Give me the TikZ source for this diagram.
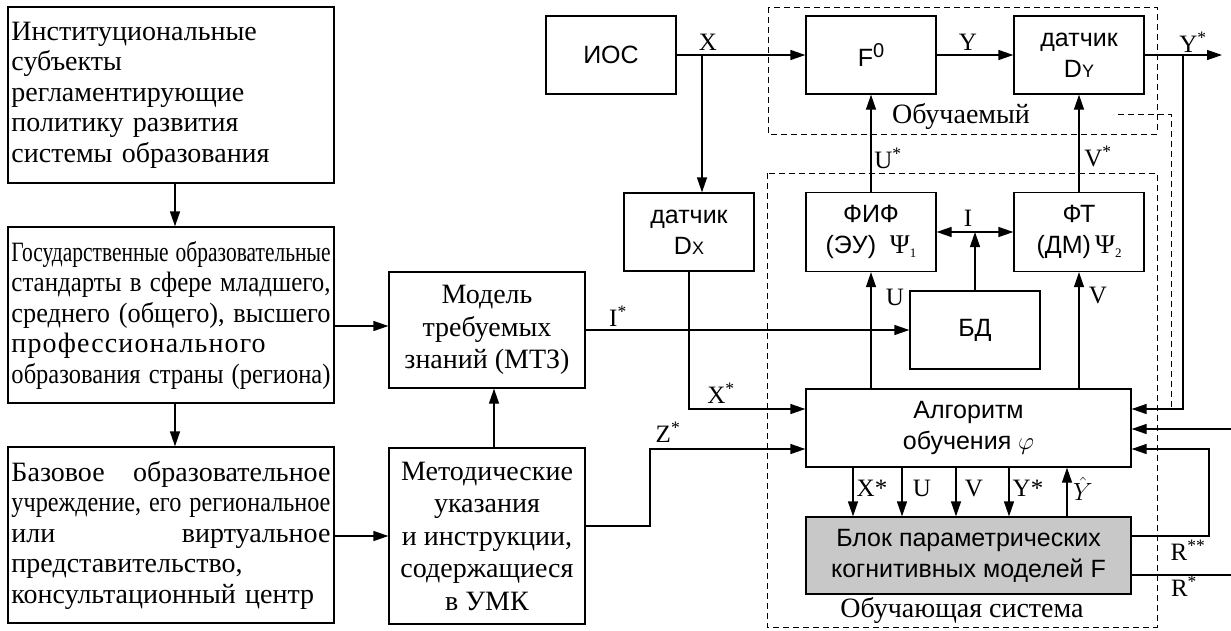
\documentclass[tikz,border=0pt]{standalone}
\usepackage{fontspec}
\usepackage{graphicx}
\setmainfont{Liberation Serif}
\setsansfont{Liberation Sans}
\usetikzlibrary{arrows.meta,calc}
\def\LW{319pt}
\newsavebox\lbx
\newcommand\fitline[1]{\sbox\lbx{#1}\ifdim\wd\lbx>\LW\relax\resizebox{\LW}{\height}{#1}\else\makebox[\LW][s]{#1}\fi}
\newcommand\jline[2]{\makebox[\LW]{#1\hfill #2}}
\tikzset{
 box/.style={draw, line width=1.3pt, inner sep=0pt, align=center},
 sbox/.style={box, font=\sffamily\fontsize{25}{31}\selectfont},
 tbox/.style={box, font=\fontsize{28}{32.5}\selectfont},
 lbox/.style={draw, line width=1.3pt, minimum width=326pt, minimum height=176pt, text width=319pt, align=left, inner sep=0pt, font=\fontsize{28}{30.5}\selectfont},
 conn/.style={line width=1.3pt},
 arr/.style={conn, -{Triangle[length=15pt,width=10pt]}},
 darr/.style={conn, {Triangle[length=15pt,width=10pt]}-{Triangle[length=15pt,width=10pt]}},
 lab/.style={font=\fontsize{25}{25}\selectfont, inner sep=0pt},
 dbox/.style={draw, line width=1pt, dash pattern=on 6pt off 4pt},
}
\begin{document}
\begin{tikzpicture}[x=1pt,y=-1pt]
\useasboundingbox (0,0) rectangle (1231,630);
% left column
\node[lbox] (A) at (171,95) {Институциональные\\ субъекты\\ регламентирующие\\ политику развития\\ системы образования};
\node[lbox] (B) at (171,315) {\fitline{Государственные образовательные}\\ \fitline{стандарты в сфере младшего,}\\ \fitline{среднего (общего), высшего}\\ {\addfontfeature{LetterSpace=4}профессионального}\\ \fitline{образования страны (региона)}};
\node[lbox] (C) at (171,535) {\jline{Базовое}{образовательное}\\ \fitline{учреждение, его региональное}\\ \jline{или}{виртуальное}\\ представительство,\\ консультационный центр};
\node[tbox, minimum width=196pt, minimum height=116pt] (MTZ) at (487,330) {Модель\\требуемых\\знаний (МТЗ)};
\node[tbox, minimum width=196pt, minimum height=176pt] (UMK) at (487,536) {Методические\\указания\\и инструкции,\\содержащиеся\\в УМК};
% top row
\node[sbox, minimum width=130pt, minimum height=78pt] (IOS) at (611,55) {ИОС};
\node[sbox, minimum width=130pt, minimum height=78pt] (F0) at (871,55) {F{\fontsize{20}{20}\selectfont\raisebox{9pt}{0}}};
\node[sbox, minimum width=130pt, minimum height=78pt] (DY) at (1079,55) {датчик\\D{\fontsize{18}{18}\selectfont Y}};
\node[sbox, minimum width=130pt, minimum height=78pt] (DX) at (689,232) {датчик\\D{\fontsize{18}{18}\selectfont X}};
\node[sbox, minimum width=130pt, minimum height=79pt] (FIF) at (871,232) {ФИФ\\(ЭУ)\ \ {\rmfamily\fontsize{27}{27}\selectfont Ψ{\fontsize{13}{13}\selectfont\raisebox{-4pt}{1}}}};
\node[sbox, minimum width=130pt, minimum height=79pt] (FT) at (1079,232) {ФТ\\(ДМ)\,{\rmfamily\fontsize{27}{27}\selectfont Ψ{\fontsize{13}{13}\selectfont\raisebox{-4pt}{2}}}};
\node[sbox, minimum width=130pt, minimum height=78pt] (BD) at (975,330) {БД};
\node[sbox, minimum width=325pt, minimum height=78pt] (ALG) at (968.5,428) {Алгоритм\\обучения $\varphi$};
\node[sbox, fill={rgb,255:red,200;green,200;blue,200}, minimum width=325pt, minimum height=77pt] (BLK) at (968.5,555.5) {Блок параметрических\\когнитивных моделей F};
% dashed boxes
\draw[dbox] (768,7) rectangle (1157,134);
\node[lab, font=\fontsize{28}{28}\selectfont] (L1) at (961,116) {Обучаемый};
\draw[dbox] (767,173) rectangle (1157,627);
\node[lab, font=\fontsize{28}{28}\selectfont] (L2) at (962,610) {Обучающая система};
% coordinates
\coordinate (cx) at (175,0);
\coordinate (h1) at (0,326);
\coordinate (v1) at (494,0);
\coordinate (xb) at (702,55);
\coordinate (y409) at (0,409);
\coordinate (y449) at (0,449);
\coordinate (y429) at (0,429);
\coordinate (zc) at (650,526);
\coordinate (zt) at (650,449);
\coordinate (yout) at (1222,55);
\coordinate (yb) at (1183,55);
\coordinate (ybb) at (1183,409);
\coordinate (ds) at (1118,114);
\coordinate (dc) at (1171,114);
\coordinate (de) at (1171,409);
\coordinate (rin) at (1231,429);
\coordinate (rr) at (1209,536);
\coordinate (rt) at (1209,449);
\coordinate (rs) at (0,536);
\coordinate (r1) at (0,575);
\coordinate (rout) at (1231,575);
\coordinate (ib) at (975,232);
% left connectors
\draw[arr] (A.south -| cx) -- (B.north -| cx);
\draw[arr] (B.south -| cx) -- (C.north -| cx);
\draw[arr] (B.east |- h1) -- (MTZ.west |- h1);
\draw[arr] (C.east |- UMK.west) -- (UMK.west);
\draw[arr] (UMK.north -| v1) -- (MTZ.south -| v1);
\draw[arr] (MTZ.east) -- (BD.west);
\node[lab] (lI) at (618,316) {I\textsuperscript{*}};
\draw[arr] (IOS.east) -- (F0.west);
\node[lab] (lX) at (708,42) {X};
\draw[arr] (xb) -- (xb |- DX.north);
\draw[arr] (DX.south) |- (ALG.west |- y409);
\node[lab] (lXs) at (721,393) {X\textsuperscript{*}};
\draw[arr] (UMK.east |- zc) -- (zc) -- (zt) -- (ALG.west |- y449);
\node[lab] (lZ) at (668,432) {Z\textsuperscript{*}};
\draw[arr] (F0.east) -- (DY.west);
\node[lab] (lY) at (968,42) {Y};
\draw[arr] (DY.east) -- (yout);
\node[lab] (lYs) at (1193,42) {Y\textsuperscript{*}};
\draw[arr] (yb) -- (ybb) -- (ALG.east |- y409);
\draw[dbox] (ds) -- (dc) -- (de);
\draw[arr] (rin) -- (ALG.east |- y429);
\draw[arr] (BLK.east |- rs) -- (rr) -- (rt) -- (ALG.east |- y449);
\node[lab] (lR2) at (1188,550) {R\textsuperscript{**}};
\draw[conn] (BLK.east |- r1) -- (rout);
\node[lab] (lR1) at (1184,586) {R\textsuperscript{*}};
\draw[arr] (FIF.north) -- (F0.south);
\node[lab] (lUs) at (888,158) {U\textsuperscript{*}};
\draw[arr] (FT.north) -- (DY.south);
\node[lab] (lVs) at (1098,156) {V\textsuperscript{*}};
\draw[arr] (ALG.north -| FIF.south) -- (FIF.south);
\node[lab] (lU) at (895,297) {U};
\draw[arr] (ALG.north -| FT.south) -- (FT.south);
\node[lab] (lV) at (1098,295) {V};
\draw[darr] (FIF.east) -- (FT.west);
\draw[arr] (BD.north) -- (ib);
\node[lab] (lI2) at (968,218) {I};
% between algorithm and block
\foreach \xx/\nm in {853/a,902/b,956/c,1009/d}{
  \coordinate (c\nm) at (\xx,0);
  \draw[arr] (ALG.south -| c\nm) -- (BLK.north -| c\nm);
}
\coordinate (ce) at (1067,0);
\draw[arr] (BLK.north -| ce) -- (ALG.south -| ce);
\node[lab] (la) at (872,488) {X*};
\node[lab] (lb) at (922,488) {U};
\node[lab] (lc) at (974,488) {V};
\node[lab] (ld) at (1028,488) {Y*};
\node[lab] (le) at (1083,489) {$\hat{Y}$};
\end{tikzpicture}
\end{document}
